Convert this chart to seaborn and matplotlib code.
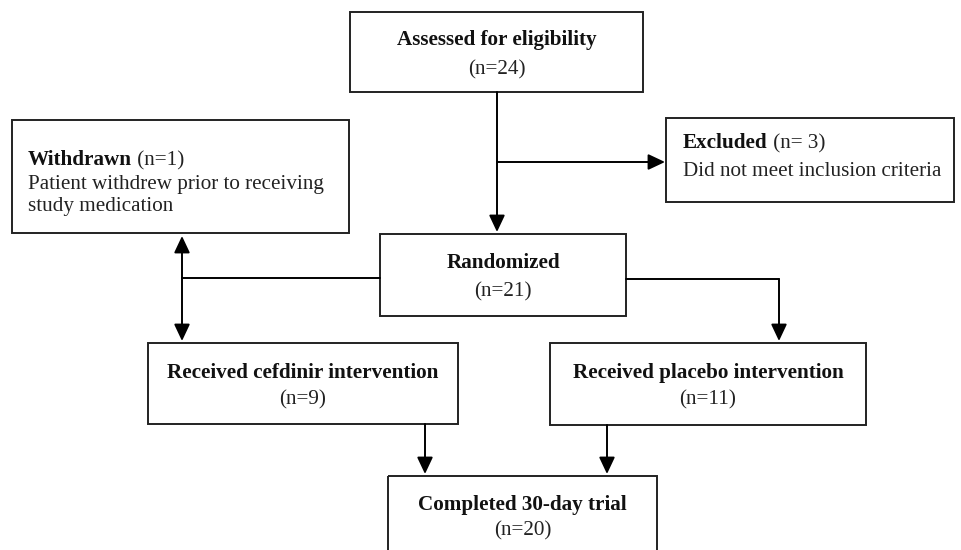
import matplotlib
matplotlib.use("Agg")
import matplotlib.pyplot as plt
import seaborn as sns
import pandas as pd

sns.set_theme(style="white")
plt.rcParams['font.family'] = ['Liberation Serif', 'DejaVu Serif']

# ---- data ----
stage_titles = ["Assessed for eligibility", "Randomized", "Received cefdinir intervention",
                "Received placebo intervention", "Completed 30-day trial"]
stage_n = [24, 21, 9, 11, 20]
side_titles = ["Withdrawn", "Excluded"]
side_n = ["(n=1)", "(n= 3)"]
side_desc = [["Patient withdrew prior to receiving", "study medication"],
             ["Did not meet inclusion criteria"]]

# ---- layout (pixel coordinates) ----
W, H = 961, 550
fig = plt.figure(figsize=(W / 100, H / 100), dpi=100)
ax = fig.add_axes([0, 0, 1, 1])
ax.set_xlim(0, W)
ax.set_ylim(H, 0)
ax.axis("off")

EC = "#222222"
LW = 1.4
FS = 15.2

def box(x0, y0, x1, y1):
    ax.add_patch(plt.Rectangle((x0, y0), x1 - x0, y1 - y0, fill=False,
                               edgecolor=EC, lw=LW, zorder=2))

def line(xs, ys):
    d = pd.DataFrame({"x": xs, "y": ys, "o": range(len(xs))})
    sns.lineplot(data=d, x="x", y="y", sort=False, estimator=None, ax=ax,
                 color="black", lw=LW, legend=False)

def arrow(x0, y0, x1, y1):
    ax.annotate("", xy=(x1, y1), xytext=(x0, y0),
                arrowprops=dict(arrowstyle="-|>,head_length=0.85,head_width=0.4",
                                lw=LW, color="black", shrinkA=0, shrinkB=0))

# stage boxes: (x0, y0, x1, y1)
stage_boxes = [(350, 12, 643, 92), (380, 234, 626, 316), (148, 343, 458, 424),
               (550, 343, 866, 425), (388, 476, 657, 560)]
title_y = [40, 263, 373, 373, 505]
n_y = [70, 292, 400, 400, 531]
for (x0, y0, x1, y1), t, n, ty, ny in zip(stage_boxes, stage_titles, stage_n, title_y, n_y):
    box(x0, y0, x1, y1)
    cx = (x0 + x1) / 2
    ax.text(cx, ty, t, ha="center", va="center", fontsize=FS, fontweight="bold", color="#111111")
    ax.text(cx, ny, f"(n={n})", ha="center", va="center", fontsize=FS, color="#222222")

# side boxes
side_boxes = [(12, 120, 349, 233), (666, 118, 954, 202)]
side_x = [28, 683]
side_y = [[160, 184, 207], [143, 171]]
for (x0, y0, x1, y1), t, n, desc, sx, sy in zip(side_boxes, side_titles, side_n, side_desc, side_x, side_y):
    box(x0, y0, x1, y1)
    tt = ax.text(sx, sy[0], t, ha="left", va="center", fontsize=FS, fontweight="bold", color="#111111")
    ax.annotate(" " + n, xy=(1, 0), xycoords=tt, ha="left", va="bottom",
                fontsize=FS, color="#222222")
    for d, yy in zip(desc, sy[1:]):
        ax.text(sx, yy, d, ha="left", va="center", fontsize=FS, color="#222222")

# connectors
arrow(497, 92, 497, 232)          # assessed -> randomized
arrow(497, 162, 665, 162)         # -> excluded
line([380, 182], [278, 278])      # randomized -> left branch
arrow(182, 278, 182, 236)         # -> withdrawn
arrow(182, 278, 182, 341)         # -> cefdinir
line([626, 779], [279, 279])      # randomized -> right branch
arrow(779, 279, 779, 341)         # -> placebo
arrow(425, 424, 425, 474)         # cefdinir -> completed
arrow(607, 425, 607, 474)         # placebo -> completed

fig.savefig("out.png", dpi=100, facecolor="white")
